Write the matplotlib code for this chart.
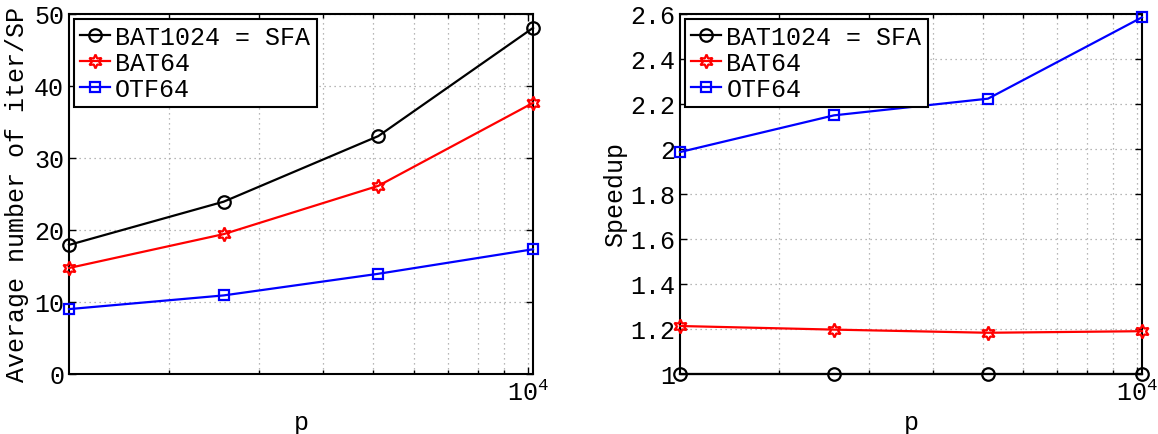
import matplotlib
matplotlib.use("Agg")
import matplotlib.pyplot as plt
from matplotlib.ticker import LogLocator, FixedLocator, FuncFormatter, NullFormatter

plt.rcParams['font.family'] = ['Liberation Mono', 'DejaVu Sans Mono']
plt.rcParams['mathtext.fontset'] = 'custom'
plt.rcParams['mathtext.rm'] = 'Liberation Mono'
plt.rcParams['mathtext.it'] = 'Liberation Mono'

p = [1280, 2560, 5120, 10240]
labels = ['BAT1024 = SFA', 'BAT64', 'OTF64']

iters_bat1024 = [17.9, 23.9, 33.0, 48.0]
iters_bat64 = [14.7, 19.4, 26.1, 37.6]
iters_otf64 = [9.0, 10.9, 13.9, 17.3]

speed_bat1024 = [1.0, 1.0, 1.0, 1.0]
speed_bat64 = [1.213, 1.197, 1.183, 1.19]
speed_otf64 = [1.985, 2.148, 2.222, 2.583]

FS = 18
W, H = 1158, 435
fig = plt.figure(figsize=(W / 100, H / 100), dpi=100)

ax1 = fig.add_axes([69 / W, 1 - 375 / H, (533 - 69) / W, (375 - 14.5) / H])
ax2 = fig.add_axes([680 / W, 1 - 375 / H, (1142 - 680) / W, (375 - 14.5) / H])

styles = [dict(color='black', marker='o', ms=9),
          dict(color='red', marker=(6, 1, 0), ms=10),
          dict(color='blue', marker='s', ms=7)]

GRID = dict(linestyle=(0, (1, 3)), color='#a0a0a0', lw=0.9)


def style_axes(ax, ylim, yticks):
    ax.set_xscale('log')
    ax.set_xlim(p[0], p[-1])
    ax.set_ylim(*ylim)
    ax.set_yticks(yticks)
    ax.yaxis.set_major_formatter(FuncFormatter(lambda v, pos: '%g' % v))
    ax.xaxis.set_major_locator(FixedLocator([1e4]))
    ax.xaxis.set_major_formatter(FuncFormatter(lambda v, pos: r'$\mathregular{10^{4}}$'))
    ax.xaxis.set_minor_locator(LogLocator(base=10, subs=range(2, 10)))
    ax.xaxis.set_minor_formatter(NullFormatter())
    ax.grid(True, which='major', axis='both', **GRID)
    ax.grid(True, which='minor', axis='x', **GRID)
    ax.tick_params(which='both', direction='in', top=True, right=True,
                   labelsize=FS, width=1.0)
    ax.tick_params(which='major', length=5)
    ax.tick_params(which='minor', length=3)
    for s in ax.spines.values():
        s.set_linewidth(1.5)
    ax.set_xlabel('p', fontsize=FS, labelpad=4)


for ax, series in [(ax1, [iters_bat1024, iters_bat64, iters_otf64]),
                   (ax2, [speed_bat1024, speed_bat64, speed_otf64])]:
    for y, lab, st in zip(series, labels, styles):
        ax.plot(p, y, label=lab, color=st['color'], marker=st['marker'],
                ms=st['ms'], mfc='none', mew=1.6, lw=1.6, clip_on=False, zorder=3)
    leg = ax.legend(loc='upper left', fontsize=FS, frameon=True, fancybox=False,
                    edgecolor='black', framealpha=1, borderaxespad=0.2,
                    handlelength=1.2, handletextpad=0.2, labelspacing=0.08,
                    borderpad=0.25)
    leg.get_frame().set_linewidth(1.5)

style_axes(ax1, (0, 50), [0, 10, 20, 30, 40, 50])
style_axes(ax2, (1, 2.6), [1, 1.2, 1.4, 1.6, 1.8, 2, 2.2, 2.4, 2.6])
ax1.set_ylabel('Average number of iter/SP', fontsize=FS, labelpad=4)
ax2.set_ylabel('Speedup', fontsize=FS, labelpad=2)

fig.savefig('out.png', dpi=100)
